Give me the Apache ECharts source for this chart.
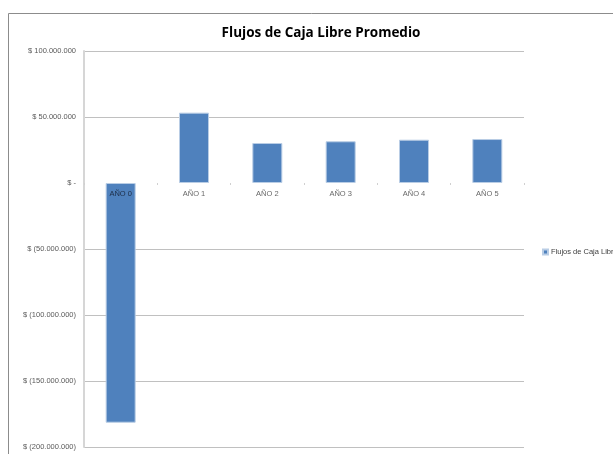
<!DOCTYPE html>
<html>
<head>
<meta charset="utf-8">
<script src="https://cdn.jsdelivr.net/npm/echarts@6/dist/echarts.min.js"></script>
<style>
  html, body { margin: 0; padding: 0; background: #fff; }
  #chart { width: 613px; height: 454px; }
</style>
</head>
<body>
<div id="chart"></div>
<script>
// Free cash flow per year (in pesos)
const categories = ['AÑO 0', 'AÑO 1', 'AÑO 2', 'AÑO 3', 'AÑO 4', 'AÑO 5'];
const flujos = [-181600000, 53300000, 30300000, 31600000, 32800000, 33300000];
const seriesName = 'Flujos de Caja Libre Promedio';

function formatPesos(v) {
  if (v === 0) return '$ -';
  const s = Math.abs(v).toString().replace(/\B(?=(\d{3})+(?!\d))/g, '.');
  return v < 0 ? '$ (' + s + ')' : '$ ' + s;
}

const chart = echarts.init(document.getElementById('chart'));
const grid = '#c0c0c0';
chart.setOption({
  animation: false,
  backgroundColor: '#fff',
  title: {
    text: 'Flujos de Caja Libre Promedio',
    left: 316, top: 21, textAlign: 'center',
    textStyle: { fontFamily: 'Open Sans', fontWeight: 'bold', fontSize: 13.5, color: '#000' }
  },
  graphic: [{
    type: 'rect', silent: true, z: -1,
    shape: { x: 8.5, y: 13.5, width: 620, height: 460 },
    style: { fill: 'none', stroke: '#8c8c8c', lineWidth: 1 }
  }],
  legend: {
    left: 537, top: 243,
    itemWidth: 5, itemHeight: 5, itemGap: 3,
    icon: 'rect',
    textStyle: { fontFamily: 'Liberation Sans', fontSize: 7.5, color: '#404040', padding: [0, 0, 0, -2] },
    data: [seriesName]
  },
  grid: { left: 84, right: 89, top: 51, bottom: 7, outerBoundsMode: 'none', containLabel: false },
  xAxis: {
    type: 'category',
    data: categories,
    axisLine: { show: true, onZero: true, lineStyle: { color: 'rgba(0,0,0,0)' } },
    axisTick: { show: true, length: 2, lineStyle: { color: '#d0d0d0' } },
    axisLabel: { show: false }
  },
  yAxis: {
    type: 'value',
    min: -200000000, max: 100000000, interval: 50000000,
    axisLine: { show: true, lineStyle: { color: '#d6d6d6', width: 2 } },
    axisTick: { show: false },
    axisLabel: { formatter: formatPesos, fontFamily: 'Liberation Sans', fontSize: 7.5, color: '#595959', margin: 8 },
    splitLine: { lineStyle: { color: [grid, grid, grid, grid, 'rgba(0,0,0,0)', grid, grid], width: 1 } }
  },
  series: [{
    name: seriesName,
    type: 'bar',
    data: flujos,
    barWidth: 30,
    itemStyle: { color: '#4f81bd', borderColor: '#b9cde5', borderWidth: 1 },
    z: 2
  }, {
    // category names placed just below the zero line; darker where they sit on a bar
    type: 'scatter',
    data: categories.map((c, i) => ({ value: 0, label: { color: flujos[i] < 0 ? '#101828' : '#404040' } })),
    symbolSize: 0,
    silent: true,
    z: 5,
    label: {
      show: true, position: 'bottom', distance: 7,
      formatter: (p) => categories[p.dataIndex],
      fontFamily: 'Liberation Sans', fontSize: 7.5
    }
  }]
});
</script>
</body>
</html>
